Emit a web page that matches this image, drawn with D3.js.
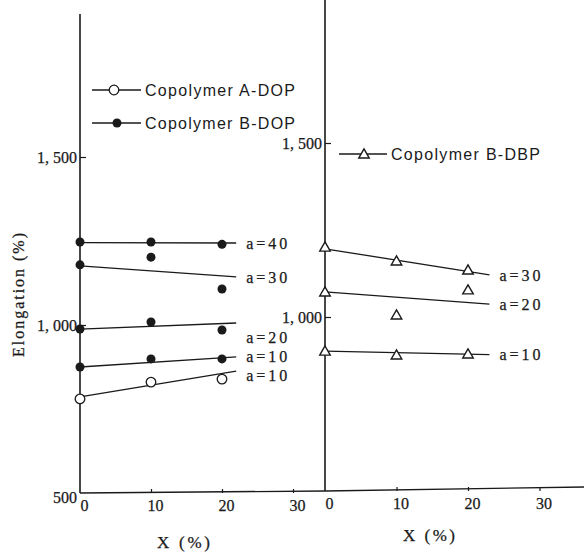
<!DOCTYPE html>
<html>
<head>
<meta charset="utf-8">
<script src="https://cdn.jsdelivr.net/npm/d3@7"></script>
<style>
  html, body { margin: 0; padding: 0; background: #fff; }
  svg { display: block; }
  .serif { font-family: "Liberation Serif", "DejaVu Serif", serif; fill: #1a1a1a; stroke: #1a1a1a; stroke-width: 0.25px; }
  .sans { font-family: "Liberation Sans", "DejaVu Sans", sans-serif; fill: #1a1a1a; }
</style>
</head>
<body>
<svg id="chart" width="584" height="553"></svg>
<script>
// ---------------- data ----------------
const xValues = [0, 10, 20];
const xTicks = [0, 10, 20, 30];
const leftYTicks = [500, 1000, 1500];
const rightYTicks = [1000, 1500];
const yTickLabels = {500: "500", 1000: "1, 000", 1500: "1, 500"};

// Copolymer B-DOP (filled circles)
const bdopA40 = [1247, 1247, 1240];
const bdopA30 = [1179, 1202, 1107];
const bdopA20 = [988, 1009, 985];
const bdopA10 = [875, 899, 899];
// Copolymer A-DOP (open circles)
const adopA10 = [780, 830, 839];
// Copolymer B-DBP (open triangles)
const bdbpA30 = [1201, 1161, 1135];
const bdbpA20 = [1072, 1006, 1078];
const bdbpA10 = [902, 891, 894];

// fitted lines: [start, end] values at x = fitXLeft / fitXRight
const fitXLeft = [0, 22];
const fitXRight = [0, 23];
const fitBdopA40 = [1245, 1244];
const fitBdopA30 = [1176, 1143];
const fitBdopA20 = [988, 1006];
const fitBdopA10 = [875, 905];
const fitAdopA10 = [786, 863];
const fitBdbpA30 = [1196, 1121];
const fitBdbpA20 = [1072, 1037];
const fitBdbpA10 = [902, 892];

const legendLabels = ["Copolymer A-DOP", "Copolymer B-DOP", "Copolymer B-DBP"];
const seriesLabels = {a40: "a=40", a30: "a=30", a20: "a=20", a10: "a=10"};

// ---------------- drawing ----------------
const svg = d3.select("#chart");
const ink = "#1a1a1a";

const xL = d3.scaleLinear().domain([0, 30]).range([80, 293]);
const yL = d3.scaleLinear().domain([500, 1500]).range([493, 157]);
const xR = d3.scaleLinear().domain([0, 30]).range([325, 539.5]);
const yR = d3.scaleLinear().domain([1000, 1500]).range([317, 143]);

function styleAxis(g) {
  g.selectAll("path.domain").remove();
  g.selectAll(".tick line").attr("stroke", ink).attr("stroke-width", 1.2);
  g.selectAll(".tick text").attr("class", "serif").attr("font-size", 16)
    .attr("fill", ink);
}

// left y axis
const gyL = svg.append("g").attr("transform", `translate(${xL(0)},0)`)
  .call(d3.axisLeft(yL).tickValues(leftYTicks).tickSize(-6).tickPadding(3)
    .tickFormat(d => yTickLabels[d]));
styleAxis(gyL);
gyL.selectAll(".tick").filter(d => d === 500).select("line").remove();
gyL.selectAll(".tick").filter(d => d === 500).select("text").attr("dy", "0.6em");
svg.append("line").attr("x1", xL(0)).attr("x2", xL(0)).attr("y1", 14).attr("y2", yL(500))
  .attr("stroke", ink).attr("stroke-width", 1.6);

// right y axis
const gyR = svg.append("g").attr("transform", `translate(${xR(0)},0)`)
  .call(d3.axisLeft(yR).tickValues(rightYTicks).tickSize(-6).tickPadding(3)
    .tickFormat(d => yTickLabels[d]));
styleAxis(gyR);
svg.append("line").attr("x1", xR(0)).attr("x2", xR(0)).attr("y1", 0).attr("y2", yR(500))
  .attr("stroke", ink).attr("stroke-width", 1.6);

// bottom axes
const gxL = svg.append("g").attr("transform", `translate(0,${yL(500)})`)
  .call(d3.axisBottom(xL).tickValues(xTicks).tickSize(-4).tickPadding(7));
styleAxis(gxL);
gxL.selectAll(".tick text").attr("dx", 4);
gxL.selectAll(".tick").filter(d => d === 0).select("line").remove();
const gxR = svg.append("g").attr("transform", `translate(0,${yR(500)})`)
  .call(d3.axisBottom(xR).tickValues(xTicks).tickSize(-4).tickPadding(7));
styleAxis(gxR);
gxR.selectAll(".tick text").attr("dx", 4);
gxR.selectAll(".tick").filter(d => d === 0).select("line").remove();
svg.append("line").attr("x1", xL(0)).attr("x2", xR(0)).attr("y1", yL(500)).attr("y2", yR(500))
  .attr("stroke", ink).attr("stroke-width", 1.4);
svg.append("line").attr("x1", xR(0)).attr("x2", 584).attr("y1", yR(500)).attr("y2", yR(500) - 4)
  .attr("stroke", ink).attr("stroke-width", 1.4);

// axis titles
svg.append("text").attr("class", "serif").attr("font-size", 16)
  .attr("transform", "translate(24,295) rotate(-90)")
  .attr("text-anchor", "middle").attr("textLength", 124).attr("lengthAdjust", "spacing")
  .text("Elongation (%)");
svg.append("text").attr("class", "serif").attr("font-size", 17)
  .attr("x", 157).attr("y", 548).attr("textLength", 53).attr("lengthAdjust", "spacing").text("X (%)");
svg.append("text").attr("class", "serif").attr("font-size", 17)
  .attr("x", 403).attr("y", 541).attr("textLength", 52).attr("lengthAdjust", "spacing").text("X (%)");

// markers
function drawMarker(g, type, cx, cy) {
  if (type === "open") {
    g.append("circle").attr("cx", cx).attr("cy", cy).attr("r", 4.8)
      .attr("fill", "#fff").attr("stroke", ink).attr("stroke-width", 1.3);
  } else if (type === "filled") {
    g.append("circle").attr("cx", cx).attr("cy", cy).attr("r", 4.5).attr("fill", ink);
  } else {
    const s = d3.symbol().type(d3.symbolTriangle).size(48);
    g.append("path").attr("d", s()).attr("transform", `translate(${cx},${cy + 1})`)
      .attr("fill", "#fff").attr("stroke", ink).attr("stroke-width", 1.4);
  }
}

function drawSeries(xs, ys, fitX, fit, vals, type, label, labelDy) {
  const g = svg.append("g");
  g.append("line")
    .attr("x1", xs(fitX[0])).attr("y1", ys(fit[0]))
    .attr("x2", xs(fitX[1])).attr("y2", ys(fit[1]))
    .attr("stroke", ink).attr("stroke-width", 1.3);
  vals.forEach((v, i) => drawMarker(g, type, xs(xValues[i]), ys(v)));
  g.append("text").attr("class", "serif").attr("font-size", 16)
    .attr("x", xs(fitX[1]) + 10).attr("y", ys(fit[1]) + labelDy)
    .attr("dy", "0.35em").attr("textLength", 41).attr("lengthAdjust", "spacing")
    .text(label);
}

drawSeries(xL, yL, fitXLeft, fitBdopA40, bdopA40, "filled", seriesLabels.a40, 0);
drawSeries(xL, yL, fitXLeft, fitBdopA30, bdopA30, "filled", seriesLabels.a30, 0);
drawSeries(xL, yL, fitXLeft, fitBdopA20, bdopA20, "filled", seriesLabels.a20, 14);
drawSeries(xL, yL, fitXLeft, fitBdopA10, bdopA10, "filled", seriesLabels.a10, -1);
drawSeries(xL, yL, fitXLeft, fitAdopA10, adopA10, "open", seriesLabels.a10, 4);
drawSeries(xR, yR, fitXRight, fitBdbpA30, bdbpA30, "tri", seriesLabels.a30, 1);
drawSeries(xR, yR, fitXRight, fitBdbpA20, bdbpA20, "tri", seriesLabels.a20, 0);
drawSeries(xR, yR, fitXRight, fitBdbpA10, bdbpA10, "tri", seriesLabels.a10, 0);

// legends
function legend(x1, x2, mx, y, type, label, tx, tl) {
  const g = svg.append("g");
  g.append("line").attr("x1", x1).attr("x2", x2).attr("y1", y).attr("y2", y)
    .attr("stroke", ink).attr("stroke-width", 1.3);
  drawMarker(g, type, mx, y);
  g.append("text").attr("class", "sans").attr("font-size", 16)
    .attr("x", tx).attr("y", y).attr("dy", "0.35em")
    .attr("textLength", tl).attr("lengthAdjust", "spacing").text(label);
}
legend(92, 141, 114, 90, "open", legendLabels[0], 145, 150);
legend(92, 141, 117, 123, "filled", legendLabels[1], 145, 150);
legend(339, 387, 364, 154, "tri", legendLabels[2], 391, 149);
</script>
</body>
</html>
